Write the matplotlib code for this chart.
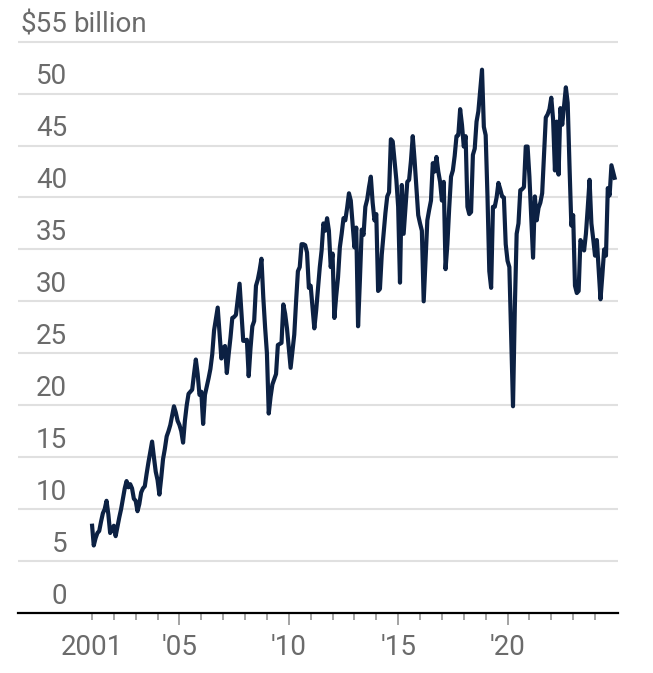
import numpy as np
import matplotlib
matplotlib.use('Agg')
import matplotlib.pyplot as plt
from matplotlib.transforms import blended_transform_factory

# monthly values, $ billion, Jan 2001 .. Dec 2024
start_year = 2001
monthly_values = [
	8.6, 6.5, 7.2, 7.7, 7.9, 8.8, 9.6, 10.0, 10.8, 9.5, 7.7, 8.0,          # 2001
	8.4, 7.4, 8.3, 9.2, 10.0, 11.0, 12.0, 12.7, 12.1, 12.4, 12.0, 11.0,    # 2002
	10.8, 9.8, 10.5, 11.6, 12.0, 12.2, 13.4, 14.5, 15.5, 16.5, 15.0, 13.6, # 2003
	12.8, 11.4, 13.0, 14.8, 15.8, 17.0, 17.5, 18.1, 19.0, 19.9, 19.3, 18.5, # 2004
	18.1, 17.5, 16.4, 18.5, 20.0, 21.1, 21.3, 21.5, 23.0, 24.4, 23.0, 21.0, # 2005
	21.3, 18.2, 21.0, 21.8, 22.6, 23.5, 24.9, 27.2, 28.3, 29.4, 27.0, 24.5, # 2006
	25.5, 25.7, 23.1, 24.9, 26.5, 28.4, 28.5, 28.7, 30.2, 31.7, 29.0, 26.2, # 2007
	26.2, 26.3, 22.8, 25.5, 27.6, 28.1, 31.5, 32.1, 33.0, 34.1, 30.4, 27.5, # 2008
	25.0, 19.2, 20.8, 22.0, 22.5, 23.0, 25.8, 25.9, 26.0, 29.7, 28.8, 27.4, # 2009
	25.5, 23.6, 25.2, 26.8, 30.0, 32.9, 33.3, 35.5, 35.5, 35.4, 34.7, 31.3, # 2010
	31.5, 29.5, 27.4, 29.1, 31.2, 33.3, 34.9, 37.5, 36.8, 38.0, 36.8, 33.3, # 2011
	34.6, 28.4, 30.5, 32.3, 35.2, 36.5, 38.0, 37.8, 39.0, 40.4, 39.7, 37.5, # 2012
	35.2, 37.1, 27.6, 32.0, 36.9, 36.4, 39.1, 39.8, 41.0, 42.0, 39.5, 37.8, # 2013
	38.4, 31.0, 31.2, 34.5, 36.5, 38.5, 40.1, 40.5, 45.6, 45.4, 43.5, 41.7, # 2014
	39.1, 31.8, 41.2, 36.5, 39.0, 41.5, 41.7, 43.5, 45.9, 43.6, 41.0, 38.3, # 2015
	37.5, 36.8, 30.0, 34.0, 37.8, 38.8, 39.7, 43.3, 42.5, 43.9, 42.5, 41.5, # 2016
	39.7, 41.5, 33.1, 35.5, 39.0, 42.0, 42.6, 44.0, 45.9, 46.0, 48.5, 47.0, # 2017
	44.9, 45.9, 39.1, 38.4, 38.6, 44.1, 44.7, 47.3, 48.3, 50.3, 52.3, 46.8, # 2018
	46.0, 40.1, 32.9, 31.3, 39.1, 39.1, 40.0, 41.4, 40.8, 40.1, 40.0, 35.5, # 2019
	33.9, 33.3, 26.5, 19.9, 29.4, 36.5, 37.5, 40.7, 40.8, 41.0, 44.9, 44.9, # 2020
	42.0, 38.0, 34.2, 40.1, 37.8, 39.0, 39.5, 40.4, 44.0, 47.7, 48.0, 48.5, # 2021
	49.6, 47.5, 42.6, 47.3, 42.2, 48.6, 47.0, 48.8, 50.6, 49.1, 43.0, 37.3, # 2022
	38.3, 31.5, 30.8, 31.0, 35.9, 35.5, 34.9, 36.5, 39.0, 41.7, 37.5, 36.0, # 2023
	34.4, 35.9, 33.0, 30.2, 32.5, 35.0, 34.4, 40.9, 40.2, 43.1, 42.4, 41.7, # 2024
]

y_ticks = [0, 5, 10, 15, 20, 25, 30, 35, 40, 45, 50, 55]
x_label_years = [2001, 2005, 2010, 2015, 2020]
x_labels = ['2001', "'05", "'10", "'15", "'20"]
tick_years = list(range(2001, 2025))

txt_color = '#6b6b6b'
line_color = '#0c2143'
font = 'Roboto'

t = start_year + np.arange(len(monthly_values)) / 12.0

fig = plt.figure(figsize=(6.53, 6.73), dpi=100, facecolor='w')
ax = fig.add_axes([18 / 653, 1 - 613 / 673, 600 / 653, (613 - 38) / 673])

for v in y_ticks[1:]:
	ax.axhline(v, color='#e0e0e0', lw=1.5, zorder=1)

ax.plot(t, monthly_values, color=line_color, lw=3.0, solid_joinstyle='round',
	solid_capstyle='butt', zorder=3)

ax.set_xlim(1997.62, 2025.05)
ax.set_ylim(0, 55.35)

for s in ['top', 'right', 'left']:
	ax.spines[s].set_visible(False)
ax.spines['bottom'].set_color('black')
ax.spines['bottom'].set_linewidth(1.6)
ax.spines['bottom'].set_zorder(4)
ax.set_yticks([])

# long ticks with labels, short ticks for the other years
major_years = [y for y in x_label_years if y != 2001]
ax.set_xticks(major_years)
ax.set_xticklabels([l for y, l in zip(x_label_years, x_labels) if y != 2001])
minor_years = [y for y in tick_years if y not in major_years]
ax.set_xticks(minor_years, minor=True)
ax.set_xticklabels([x_labels[0] if y == 2001 else '' for y in minor_years], minor=True)
ax.tick_params(axis='x', which='major', length=8.5, width=1.1, color='#8a8a8a', pad=6.5,
	labelsize=20, labelcolor=txt_color)
ax.tick_params(axis='x', which='minor', length=5, width=1.1, color='#8a8a8a', pad=10,
	labelsize=20, labelcolor=txt_color)
for lab in ax.get_xticklabels() + ax.get_xticklabels(minor=True):
	lab.set_fontfamily(font)

trans = blended_transform_factory(ax.transAxes, ax.transData)
for v in y_ticks[:-1]:
	ax.text(0.0817, v + 0.9, str(v), transform=trans, ha='right', va='baseline',
		fontsize=20, color=txt_color, fontfamily=font)
ax.text(0.0817, y_ticks[-1] + 0.9, '$' + str(y_ticks[-1]), transform=trans, ha='right',
	va='baseline', fontsize=20, color=txt_color, fontfamily=font)
ax.text(0.0917, y_ticks[-1] + 0.9, 'billion', transform=trans, ha='left', va='baseline',
	fontsize=20, color=txt_color, fontfamily=font)

fig.savefig('out.png', dpi=100, facecolor='w')
plt.close(fig)
